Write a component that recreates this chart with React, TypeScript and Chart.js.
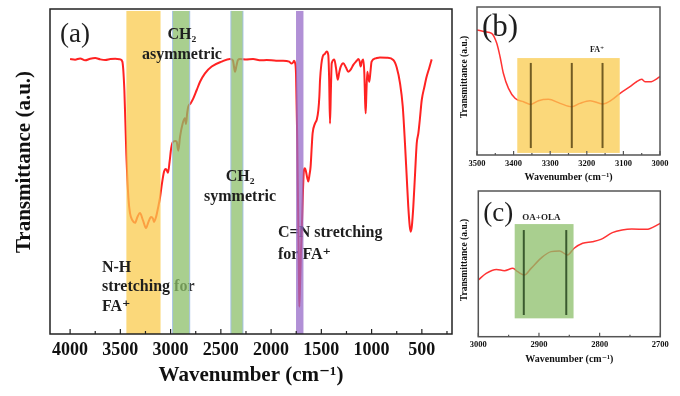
import React, { useEffect, useRef } from "react";
import { Chart, registerables } from "chart.js";
Chart.register(...registerables);

const SERIF = '"Liberation Serif", "Times New Roman", "DejaVu Serif", serif';

// ---------------- DATA ----------------
// Panel (a): full FTIR spectrum
const aWavenumber = [
  4000, 3950, 3900, 3850, 3800, 3750, 3700, 3650, 3600, 3550, 3500, 3480, 3460, 3440, 3420, 3404,
  3380, 3354, 3330, 3305, 3275, 3245, 3220, 3195, 3175, 3165, 3145, 3125, 3105, 3085, 3065, 3050,
  3040, 3026, 3010, 2995, 2979, 2955, 2940, 2923, 2906, 2880, 2857, 2847, 2835, 2824, 2800, 2774,
  2741, 2707, 2658, 2591, 2492, 2409, 2380, 2368, 2359, 2345, 2330, 2310, 2250, 2180, 2100, 2044,
  1950, 1881, 1820, 1795, 1780, 1772, 1762, 1752, 1740, 1730, 1722, 1719, 1712, 1704, 1696, 1685,
  1673, 1663, 1653, 1640, 1630, 1618, 1607, 1595, 1587, 1563, 1545, 1530, 1520, 1513, 1500, 1487,
  1465, 1447, 1431, 1422, 1414, 1405, 1397, 1371, 1355, 1337, 1322, 1308, 1282, 1255, 1232, 1205,
  1182, 1150, 1132, 1120, 1109, 1095, 1083, 1072, 1065, 1059, 1052, 1043, 1033, 1023, 1012, 1000,
  960, 917, 850, 784, 750, 717, 690, 668, 650, 635, 620, 611, 600, 585, 568, 551, 535, 520, 501,
  475, 452, 425, 402,
];
const aTransmittance = [
  84.6, 84.4, 84.8, 84.2, 84.7, 84.9, 84.5, 84.3, 84.6, 84.7, 84.5, 83.8, 75, 55, 42, 37.2,
  35, 34.2, 36, 37.2, 35, 32.6, 34.5, 36, 35.5, 34.5, 36, 38.8, 42, 46.5, 50, 50.8,
  50.5, 49.6, 53, 57, 59, 59.4, 59.2, 56.4, 60.7, 64.8, 66.4, 64.6, 68, 70, 71, 72.5,
  75, 77.6, 80.2, 82.3, 83.8, 84.6, 84.2, 82, 80.7, 82.5, 84.3, 84.6, 84.5, 84.6, 84.2, 84.3,
  84.1, 84.1, 83.8, 83.2, 83.6, 84.1, 83.5, 80, 60, 35, 15, 8.4, 15, 24, 31, 42,
  50.5, 51, 50, 48, 46.9, 49, 51.5, 58, 61.7, 64.8, 66, 68.9, 73, 78.2, 83, 85.3,
  86.2, 86.9, 85.8, 78, 64.8, 75, 83.3, 84.5, 82, 78.2, 80.5, 82.2, 83.3, 82, 80.7, 81.5,
  82.8, 84, 84.6, 84, 82.3, 84, 84.5, 80, 72, 67.9, 74, 80.7, 79, 77.6, 80.5, 83.8,
  84.8, 85.1, 85, 84.3, 82, 77.1, 70, 58.7, 48, 39.2, 33, 31.5, 33, 39.2, 49, 58.7, 61.7, 66, 72,
  76, 79.2, 82, 84.5,
];
const aTicks = [4000, 3500, 3000, 2500, 2000, 1500, 1000, 500];
const aMinorTicks = [3750, 3250, 2750, 2250, 1750, 1250, 750, 250];

// Panel (b): N-H stretching zoom
const bWavenumber = [3500, 3478, 3460, 3446, 3437, 3428, 3414, 3396, 3373, 3353, 3332, 3305, 3273, 3241, 3219, 3191, 3157, 3132, 3109, 3082, 3064, 3050, 3041, 3027, 3000];
const bTransmittance = [84.5, 83.3, 82.2, 75.5, 66.4, 55.2, 45, 38.3, 36, 34.2, 36.7, 37.6, 34.9, 32.6, 34.9, 36.7, 34.5, 37.2, 41.7, 46.2, 49.5, 51.1, 49.5, 49.5, 52.9];
const bTicks = [3500, 3400, 3300, 3200, 3100, 3000];
const bMinorTicks = [3450, 3350, 3250, 3150, 3050];
const bPeaks = [3353, 3241, 3157];

// Panel (c): CH2 zoom
const cWavenumber = [3000, 2987, 2970, 2957, 2943, 2935, 2924, 2913, 2897, 2880, 2866, 2853, 2842, 2828, 2812, 2798, 2779, 2763, 2747, 2723, 2700];
const cTransmittance = [38.9, 43.5, 46.2, 45.3, 46.9, 44.6, 42.3, 46.9, 53.8, 58.4, 58.8, 56.1, 60.7, 64.1, 65.2, 66.8, 71.4, 73.2, 73.9, 73.7, 77.8];
const cTicks = [3000, 2900, 2800, 2700];
const cMinorTicks = [2950, 2850, 2750];
const cPeaks = [2925, 2855];

// ---------------- TYPES ----------------
type Band = { from: number; to: number; lo: number; hi: number; fill: string; edge?: string };
type Mark = { x: number; lo: number; hi: number; color: string; width: number };
// layer = number of bands drawn beneath the label (0 = under all bands)
type Label = { text: string; x: number; y: number; size: number; bold: boolean; align: CanvasTextAlign; color: string; layer: number };

type Spec = {
  left: number; top: number; width: number; height: number;
  padding: { left: number; top: number; right: number; bottom: number };
  yWidth: number; xHeight: number;
  xMin: number; xMax: number;
  xs: number[]; ys: number[];
  ticks: number[]; minor: number[]; majorLen: number; minorLen: number;
  tickSize: number; tickPad: number;
  xTitle: string; xTitleSize: number; xTitlePad: number;
  yTitle: string; yTitleSize: number; yTitleX: number; yTitleY: number;
  lineWidth: number; lineColor: string;
  frameColor: string; frameWidth: number;
  bands: Band[]; marks: Mark[]; labels: Label[];
};

const TXT = "#1e1e1e";
const YEL = "rgba(250,203,78,0.75)";
const GRN = "rgba(140,191,106,0.75)";
const PUR = "rgba(151,107,200,0.75)";

const specA: Spec = {
  left: 0, top: 0, width: 460, height: 396,
  padding: { left: 0, top: 9, right: 8, bottom: 0 },
  yWidth: 50, xHeight: 62,
  xMin: 200, xMax: 4200,
  xs: aWavenumber, ys: aTransmittance,
  ticks: aTicks, minor: aMinorTicks, majorLen: 5, minorLen: 3,
  tickSize: 18, tickPad: 7,
  xTitle: "Wavenumber (cm\u207B\u00B9)", xTitleSize: 21, xTitlePad: 10,
  yTitle: "Transmittance (a.u.)", yTitleSize: 21, yTitleX: 25, yTitleY: 162,
  lineWidth: 2, lineColor: "#ff2222",
  frameColor: "#222", frameWidth: 1.5,
  bands: [
    { from: 3440, to: 3100, lo: 0, hi: 99.4, fill: YEL },
    { from: 2980, to: 2810, lo: 0, hi: 99.4, fill: GRN, edge: "rgba(160,190,230,0.9)" },
    { from: 2400, to: 2280, lo: 0, hi: 99.4, fill: GRN, edge: "rgba(160,190,230,0.9)" },
    { from: 1752, to: 1678, lo: 0, hi: 99.4, fill: PUR },
  ],
  marks: [],
  labels: [
    { text: "(a)", x: 3951, y: 92, size: 27, bold: false, align: "center", color: TXT, layer: 4 },
    { text: "CH\u2082", x: 2887, y: 92, size: 16, bold: true, align: "center", color: TXT, layer: 4 },
    { text: "asymmetric", x: 2887, y: 85.8, size: 16, bold: true, align: "center", color: TXT, layer: 4 },
    { text: "CH\u2082", x: 2309, y: 48.3, size: 16, bold: true, align: "center", color: TXT, layer: 4 },
    { text: "symmetric", x: 2309, y: 42.2, size: 16, bold: true, align: "center", color: TXT, layer: 4 },
    { text: "C=N stretching", x: 1931, y: 31.1, size: 16, bold: true, align: "left", color: TXT, layer: 3 },
    { text: "for FA\u207A", x: 1931, y: 24.3, size: 16, bold: true, align: "left", color: TXT, layer: 3 },
    { text: "N-H", x: 3683, y: 20.3, size: 16, bold: true, align: "left", color: TXT, layer: 1 },
    { text: "stretching for", x: 3683, y: 14.5, size: 16, bold: true, align: "left", color: TXT, layer: 1 },
    { text: "FA\u207A", x: 3683, y: 8.3, size: 16, bold: true, align: "left", color: TXT, layer: 1 },
  ],
};

const specB: Spec = {
  left: 455, top: 0, width: 225, height: 190,
  padding: { left: 0, top: 7, right: 20, bottom: 0 },
  yWidth: 22, xHeight: 35,
  xMin: 3000, xMax: 3500,
  xs: bWavenumber, ys: bTransmittance,
  ticks: bTicks, minor: bMinorTicks, majorLen: 4, minorLen: 2,
  tickSize: 8.5, tickPad: 4.5,
  xTitle: "Wavenumber (cm\u207B\u00B9)", xTitleSize: 10, xTitlePad: 8,
  yTitle: "Transmittance (a.u.)", yTitleSize: 9.5, yTitleX: 10, yTitleY: 77,
  lineWidth: 1.5, lineColor: "#ff3333",
  frameColor: "#555", frameWidth: 1.5,
  bands: [{ from: 3390, to: 3110, lo: 1.4, hi: 65.5, fill: YEL }],
  marks: bPeaks.map((x) => ({ x, lo: 4.7, hi: 62.2, color: "rgba(90,70,20,0.85)", width: 2 })),
  labels: [
    { text: "(b)", x: 3437, y: 85.8, size: 31, bold: false, align: "center", color: TXT, layer: 1 },
    { text: "FA\u207A", x: 3172, y: 71, size: 8, bold: true, align: "center", color: TXT, layer: 1 },
  ],
};

const specC: Spec = {
  left: 455, top: 186, width: 225, height: 210,
  padding: { left: 0, top: 5, right: 19.7, bottom: 0 },
  yWidth: 23.3, xHeight: 59.3,
  xMin: 2700, xMax: 3000,
  xs: cWavenumber, ys: cTransmittance,
  ticks: cTicks, minor: cMinorTicks, majorLen: 4, minorLen: 2,
  tickSize: 8.5, tickPad: 4,
  xTitle: "Wavenumber (cm\u207B\u00B9)", xTitleSize: 10, xTitlePad: 32,
  yTitle: "Transmittance (a.u.)", yTitleSize: 9.5, yTitleX: 10, yTitleY: 74,
  lineWidth: 1.5, lineColor: "#ff3333",
  frameColor: "#555", frameWidth: 1.5,
  bands: [{ from: 2940, to: 2843, lo: 12.6, hi: 77.3, fill: GRN }],
  marks: cPeaks.map((x) => ({ x, lo: 14.9, hi: 73.2, color: "rgba(40,70,30,0.85)", width: 2 })),
  labels: [
    { text: "(c)", x: 2967, y: 84.2, size: 27, bold: false, align: "center", color: TXT, layer: 1 },
    { text: "OA+OLA", x: 2896, y: 81.5, size: 9, bold: true, align: "center", color: TXT, layer: 1 },
  ],
};

function drawLabels(chart: any, labels: Label[]) {
  const { ctx } = chart;
  const xs = chart.scales.x;
  const ys = chart.scales.y;
  ctx.save();
  ctx.textBaseline = "middle";
  for (const l of labels) {
    ctx.font = `${l.bold ? "bold " : ""}${l.size}px ${SERIF}`;
    ctx.fillStyle = l.color;
    ctx.textAlign = l.align;
    ctx.fillText(l.text, xs.getPixelForValue(l.x), ys.getPixelForValue(l.y));
  }
  ctx.restore();
}

function drawBand(chart: any, b: Band) {
  const { ctx } = chart;
  const xs = chart.scales.x;
  const ys = chart.scales.y;
  const x1 = xs.getPixelForValue(b.from);
  const x2 = xs.getPixelForValue(b.to);
  const y1 = ys.getPixelForValue(b.hi);
  const y2 = ys.getPixelForValue(b.lo);
  ctx.save();
  ctx.fillStyle = b.fill;
  ctx.fillRect(Math.min(x1, x2), y1, Math.abs(x2 - x1), y2 - y1);
  if (b.edge) {
    ctx.strokeStyle = b.edge;
    ctx.lineWidth = 1;
    ctx.beginPath();
    ctx.moveTo(x1, y1); ctx.lineTo(x1, y2);
    ctx.moveTo(x2, y1); ctx.lineTo(x2, y2);
    ctx.stroke();
  }
  ctx.restore();
}

function decorPlugin(spec: Spec) {
  return {
    id: "decor",
    afterDatasetsDraw(chart: any) {
      const { ctx, chartArea } = chart;
      const xs = chart.scales.x;
      const ys = chart.scales.y;
      for (let k = 0; k <= spec.bands.length; k++) {
        drawLabels(chart, spec.labels.filter((l) => l.layer === k));
        if (k < spec.bands.length) drawBand(chart, spec.bands[k]);
      }
      ctx.save();
      for (const m of spec.marks) {
        const px = xs.getPixelForValue(m.x);
        ctx.strokeStyle = m.color;
        ctx.lineWidth = m.width;
        ctx.beginPath();
        ctx.moveTo(px, ys.getPixelForValue(m.hi));
        ctx.lineTo(px, ys.getPixelForValue(m.lo));
        ctx.stroke();
      }
      // frame
      ctx.strokeStyle = spec.frameColor;
      ctx.lineWidth = spec.frameWidth;
      ctx.strokeRect(chartArea.left, chartArea.top, chartArea.right - chartArea.left, chartArea.bottom - chartArea.top);
      // inward ticks
      ctx.lineWidth = 1.2;
      ctx.beginPath();
      for (const v of spec.ticks) {
        const px = xs.getPixelForValue(v);
        ctx.moveTo(px, chartArea.bottom);
        ctx.lineTo(px, chartArea.bottom - spec.majorLen);
      }
      for (const v of spec.minor) {
        const px = xs.getPixelForValue(v);
        if (px < chartArea.left || px > chartArea.right) continue;
        ctx.moveTo(px, chartArea.bottom);
        ctx.lineTo(px, chartArea.bottom - spec.minorLen);
      }
      ctx.stroke();
      // y title
      ctx.translate(spec.yTitleX, spec.yTitleY);
      ctx.rotate(-Math.PI / 2);
      ctx.font = `bold ${spec.yTitleSize}px ${SERIF}`;
      ctx.fillStyle = "#111";
      ctx.textAlign = "center";
      ctx.textBaseline = "middle";
      ctx.fillText(spec.yTitle, 0, 0);
      ctx.restore();
    },
  };
}

function Panel({ spec }: { spec: Spec }) {
  const ref = useRef<HTMLCanvasElement>(null);
  useEffect(() => {
    if (!ref.current) return;
    const chart = new Chart(ref.current, {
      type: "line",
      data: {
        datasets: [
          {
            data: spec.xs.map((x, i) => ({ x, y: spec.ys[i] })),
            borderColor: spec.lineColor,
            borderWidth: spec.lineWidth,
            pointRadius: 0,
            fill: false,
            cubicInterpolationMode: "monotone",
          } as any,
        ],
      },
      options: {
        responsive: false,
        maintainAspectRatio: false,
        animation: false,
        devicePixelRatio: 1,
        layout: { padding: spec.padding },
        plugins: { legend: { display: false }, tooltip: { enabled: false } },
        scales: {
          x: {
            type: "linear",
            reverse: true,
            min: spec.xMin,
            max: spec.xMax,
            afterBuildTicks: (s: any) => {
              s.ticks = spec.ticks.map((v) => ({ value: v }));
            },
            afterFit: (s: any) => {
              s.height = spec.xHeight;
            },
            ticks: {
              autoSkip: false,
              maxRotation: 0,
              padding: spec.tickPad,
              color: "#111",
              font: { family: SERIF, size: spec.tickSize, weight: "bold", lineHeight: 1 },
              callback: (v: any) => String(v),
            },
            grid: { display: false, drawTicks: false },
            border: { display: false },
            title: {
              display: true,
              text: spec.xTitle,
              color: "#111",
              font: { family: SERIF, size: spec.xTitleSize, weight: "bold", lineHeight: 1 },
              padding: { top: 0, bottom: spec.xTitlePad },
            },
          },
          y: {
            type: "linear",
            min: 0,
            max: 100,
            afterFit: (s: any) => {
              s.width = spec.yWidth;
            },
            ticks: { display: false },
            grid: { display: false, drawTicks: false },
            border: { display: false },
          },
        },
      } as any,
      plugins: [decorPlugin(spec)],
    });
    return () => chart.destroy();
  }, [spec]);
  return (
    <canvas
      ref={ref}
      width={spec.width}
      height={spec.height}
      style={{ position: "absolute", left: spec.left, top: spec.top, width: spec.width, height: spec.height }}
    />
  );
}

export default function App() {
  return (
    <div style={{ position: "absolute", left: 0, top: 0, width: 680, height: 396, background: "#fff", overflow: "hidden" }}>
      <Panel spec={specA} />
      <Panel spec={specB} />
      <Panel spec={specC} />
    </div>
  );
}
